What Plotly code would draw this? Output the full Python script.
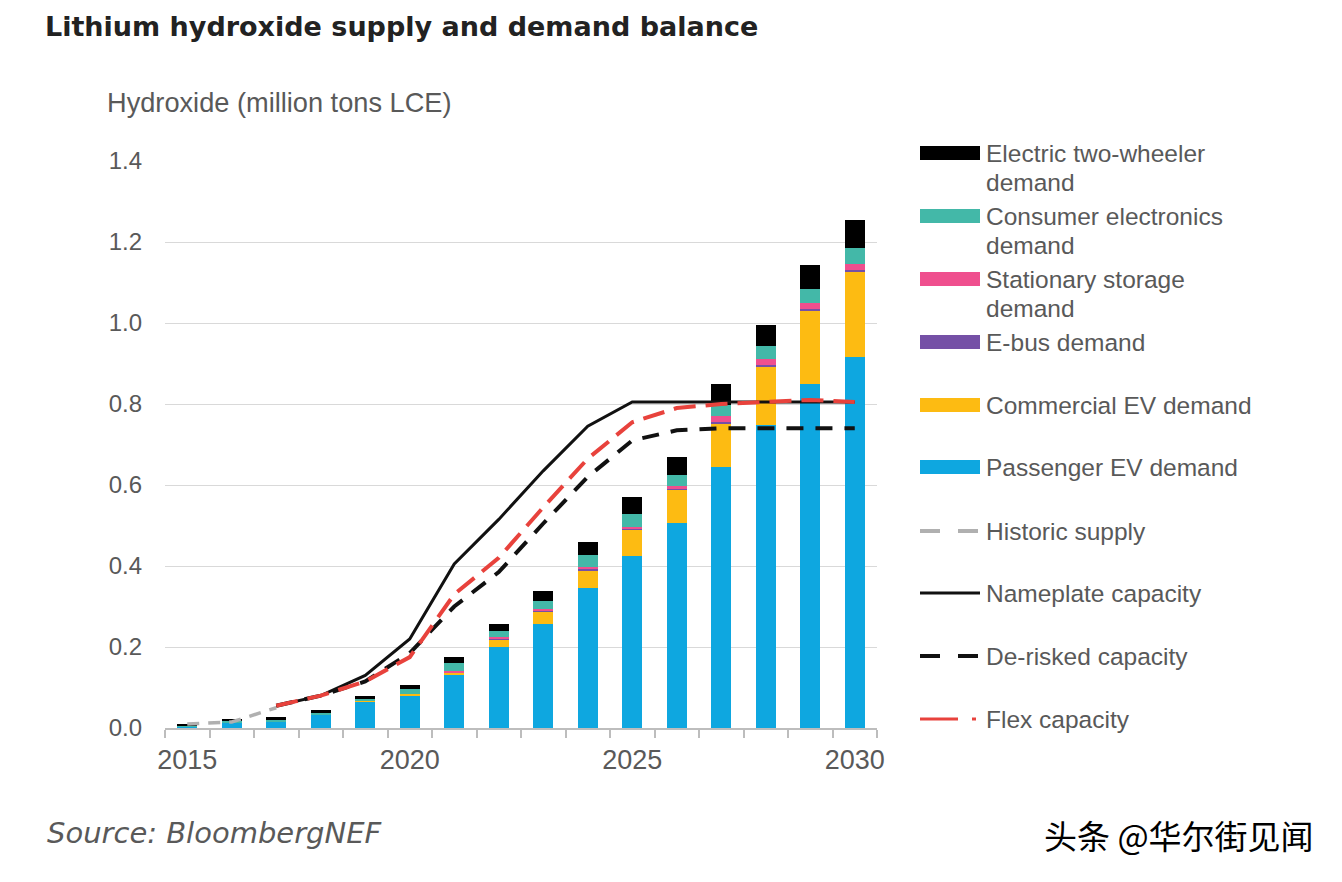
import plotly.graph_objects as go

# ---------------- data ----------------
years = list(range(2015, 2031))
passenger = [0.003, 0.012, 0.016, 0.034, 0.066, 0.081, 0.131, 0.199, 0.258, 0.345, 0.425, 0.505, 0.645, 0.748, 0.849, 0.915]
commercial = [0.0, 0.0, 0.0, 0.0, 0.001, 0.003, 0.005, 0.020, 0.029, 0.043, 0.064, 0.083, 0.105, 0.145, 0.180, 0.211]
ebus = [0.0, 0.0, 0.0, 0.0, 0.0, 0.0, 0.002, 0.003, 0.002, 0.004, 0.002, 0.002, 0.005, 0.004, 0.005, 0.005]
stationary = [0.0, 0.0, 0.0, 0.0, 0.0, 0.0, 0.002, 0.003, 0.004, 0.006, 0.006, 0.008, 0.015, 0.013, 0.015, 0.015]
consumer = [0.002, 0.005, 0.003, 0.003, 0.004, 0.012, 0.020, 0.015, 0.021, 0.030, 0.031, 0.027, 0.028, 0.032, 0.035, 0.039]
two_wheeler = [0.005, 0.005, 0.009, 0.008, 0.007, 0.010, 0.015, 0.018, 0.025, 0.032, 0.042, 0.045, 0.052, 0.053, 0.059, 0.070]

hist_years = [2015, 2016, 2017]
historic_supply = [0.010, 0.015, 0.050]

cap_years = list(range(2017, 2031))
nameplate = [0.055, 0.080, 0.130, 0.220, 0.405, 0.515, 0.635, 0.745, 0.805, 0.805, 0.805, 0.805, 0.805, 0.805]
derisked = [0.055, 0.080, 0.115, 0.185, 0.300, 0.385, 0.505, 0.620, 0.710, 0.735, 0.740, 0.740, 0.740, 0.740]
flex = [0.055, 0.080, 0.115, 0.175, 0.330, 0.420, 0.545, 0.665, 0.755, 0.790, 0.800, 0.805, 0.810, 0.805]

x_labels = [2015, 2020, 2025, 2030]

bar_names = ["Passenger EV demand", "Commercial EV demand", "E-bus demand",
             "Stationary storage demand", "Consumer electronics demand",
             "Electric two-wheeler demand"]
bar_values = [passenger, commercial, ebus, stationary, consumer, two_wheeler]
bar_colors = ["#0ea7e0", "#fdbb12", "#7550a6", "#ef4f8e", "#43b8a8", "#000000"]

legend_labels = ["Electric two-wheeler<br>demand", "Consumer electronics<br>demand",
                 "Stationary storage<br>demand", "E-bus demand", "Commercial EV demand",
                 "Passenger EV demand", "Historic supply", "Nameplate capacity",
                 "De-risked capacity", "Flex capacity"]

# ---------------- geometry helpers (pixels -> paper) ----------------
L, R, T, B = 165, 877, 161, 728
W, H = R - L, B - T
def px(x):
    return (x - L) / W
def py(y):
    return (B - y) / H

GREY = "#595959"
FONT = "Liberation Sans, Arial, sans-serif"

fig = go.Figure()

for name, vals, col in zip(bar_names, bar_values, bar_colors):
    fig.add_trace(go.Bar(x=years, y=vals, name=name, marker=dict(color=col, line=dict(width=0)),
                         width=0.46, showlegend=False))

fig.add_trace(go.Scatter(x=hist_years, y=historic_supply, mode="lines", name="Historic supply",
                         line=dict(color="#b0b0b0", width=3.5, dash="12px,9px"), showlegend=False))
fig.add_trace(go.Scatter(x=cap_years, y=nameplate, mode="lines", name="Nameplate capacity",
                         line=dict(color="#111111", width=3), showlegend=False))
fig.add_trace(go.Scatter(x=cap_years, y=derisked, mode="lines", name="De-risked capacity",
                         line=dict(color="#111111", width=4, dash="17px,12px"), showlegend=False))
fig.add_trace(go.Scatter(x=cap_years, y=flex, mode="lines", name="Flex capacity",
                         line=dict(color="#e8423c", width=4, dash="22px,10px"), showlegend=False))

# ---------------- custom legend ----------------
shapes = []
annotations = []
row_y = [153, 216, 279, 342, 405, 467, 531, 593, 656, 719]
legend_styles = [("bar", "#000000"), ("bar", "#43b8a8"), ("bar", "#ef4f8e"), ("bar", "#7550a6"),
                 ("bar", "#fdbb12"), ("bar", "#0ea7e0"), ("dash", "#b0b0b0"), ("solid", "#111111"),
                 ("dash", "#111111"), ("flex", "#e8423c")]
for lab, yy, (kind, col) in zip(legend_labels, row_y, legend_styles):
    if kind == "bar":
        shapes.append(dict(type="rect", xref="paper", yref="paper", x0=px(920), x1=px(980),
                           y0=py(yy + 7), y1=py(yy - 7), fillcolor=col, line=dict(width=0)))
    elif kind == "solid":
        shapes.append(dict(type="line", xref="paper", yref="paper", x0=px(920), x1=px(980),
                           y0=py(yy), y1=py(yy), line=dict(color=col, width=3)))
    elif kind == "dash":
        for a, b in [(920, 940), (958, 978)]:
            shapes.append(dict(type="line", xref="paper", yref="paper", x0=px(a), x1=px(b),
                               y0=py(yy), y1=py(yy), line=dict(color=col, width=4)))
    else:
        for a, b in [(920, 958), (972, 976)]:
            shapes.append(dict(type="line", xref="paper", yref="paper", x0=px(a), x1=px(b),
                               y0=py(yy), y1=py(yy), line=dict(color=col, width=3)))
    for k, line_txt in enumerate(lab.split("<br>")):
        annotations.append(dict(xref="paper", yref="paper", x=px(984), y=py(yy + 29 * k),
                                xanchor="left", yanchor="middle", text=line_txt, showarrow=False,
                                align="left", font=dict(family=FONT, size=24.5, color=GREY)))

annotations.append(dict(xref="paper", yref="paper", x=px(105), y=py(103), xanchor="left",
                        yanchor="middle", text="Hydroxide (million tons LCE)", showarrow=False,
                        font=dict(family=FONT, size=27.2, color=GREY)))
annotations.append(dict(xref="paper", yref="paper", x=px(45), y=py(833), xanchor="left",
                        yanchor="middle", text="<i>Source: BloombergNEF</i>", showarrow=False,
                        font=dict(family="DejaVu Sans, sans-serif", size=29, color=GREY)))
annotations.append(dict(xref="paper", yref="paper", x=px(1316), y=py(835), xanchor="right",
                        yanchor="middle", text="头条 @华尔街见闻", showarrow=False,
                        font=dict(family="Noto Sans CJK SC", size=33, color="#000000")))

fig.update_layout(
    width=1342, height=882,
    margin=dict(l=L, r=1342 - R, t=T, b=882 - B, pad=0),
    paper_bgcolor="white", plot_bgcolor="white",
    barmode="stack", bargap=0.54,
    title=dict(text="<b>Lithium hydroxide supply and demand balance</b>", xref="container",
               yref="container", x=45 / 1342, xanchor="left", y=1 - 27 / 882, yanchor="middle",
               font=dict(family="DejaVu Sans, sans-serif", size=27, color="#222222")),
    shapes=shapes, annotations=annotations, showlegend=False,
)
fig.update_xaxes(range=[2014.5, 2030.5], tickvals=x_labels, ticks="", showgrid=False, zeroline=False,
                 showline=True, linecolor="#bdbdbd", linewidth=1.5,
                 tickfont=dict(family=FONT, size=27, color=GREY), ticklabelstandoff=7,
                 minor=dict(tick0=2014.5, dtick=1, ticks="outside", ticklen=8, tickcolor="#bdbdbd",
                            tickwidth=1.5, showgrid=False))
fig.update_yaxes(range=[0, 1.4], dtick=0.2, tickformat=".1f", showgrid=True, gridcolor="#d9d9d9",
                 gridwidth=1, zeroline=False, showline=False, ticks="",
                 tickfont=dict(family=FONT, size=24, color=GREY), ticklabelstandoff=22)

fig.write_html("out.html", config={"displayModeBar": False},
               post_script="document.body.style.margin='0';")
